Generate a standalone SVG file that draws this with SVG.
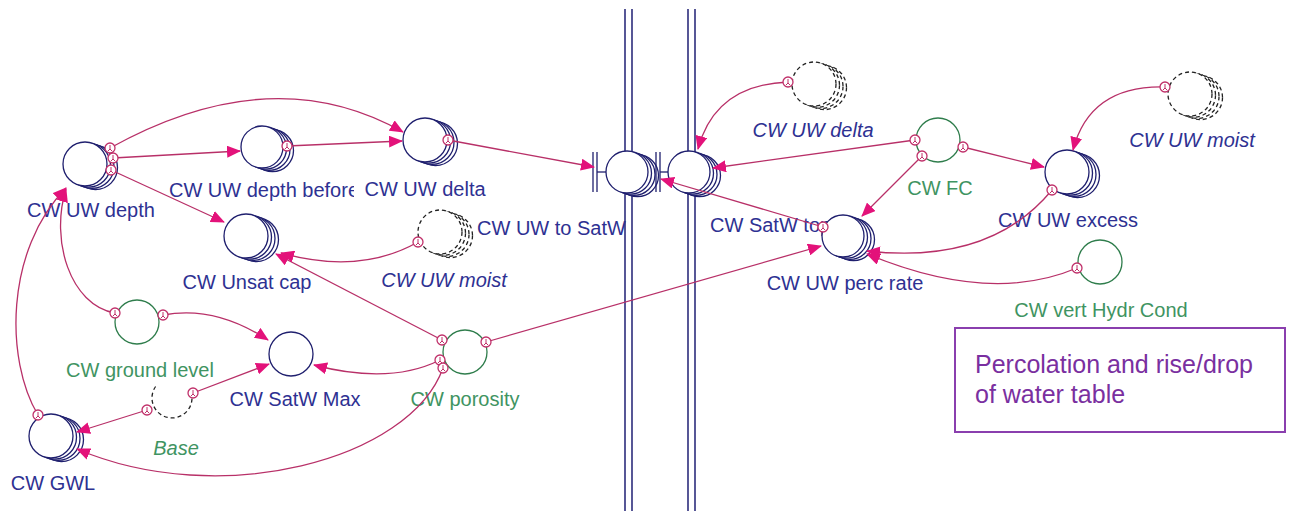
<svg xmlns="http://www.w3.org/2000/svg" width="1290" height="511" viewBox="0 0 1290 511">
<style>
text{font-family:"Liberation Sans",Arial,sans-serif;font-size:20px}
.nv{fill:#2e3192}
.gr{fill:#3f9462}
.it{font-style:italic}
.m{text-anchor:middle}
.c{fill:#fff;stroke:#1f1f6e;stroke-width:1.3}
.cg{fill:#fff;stroke:#2f7d4c;stroke-width:1.3}
.cd{fill:#fff;stroke:#222;stroke-width:1.3;stroke-dasharray:4 3}
.bar{stroke:#1f1f6e;stroke-width:1.3}
.pipe{stroke:#2c2c7c;stroke-width:1.6}
.ln{fill:none;stroke:#b83068;stroke-width:1.3;marker-end:url(#ah)}
.pin{fill:#fff;stroke:#c0306a;stroke-width:1.3}
.bx{fill:none;stroke:#8a3fae;stroke-width:2}
.bt{fill:#7a2fa0;font-size:25px}
</style>
<defs>
<marker id="ah" markerWidth="14" markerHeight="12" refX="13" refY="6" orient="auto" markerUnits="userSpaceOnUse"><path d="M0,0 L14,6 L0,12 Z" fill="#e3127a"/></marker>
<g id="pn"><circle class="pin" r="5"/><path d="M0,-3V1M-2,3L0,1L2,3" fill="none" stroke="#c0306a" stroke-width="1"/></g>
</defs>
<rect width="1290" height="511" fill="#fff"/>
<g id="pipes">
<line class="pipe" x1="625" y1="9" x2="625" y2="511"/><line class="pipe" x1="632" y1="9" x2="632" y2="511"/>
<line class="pipe" x1="688" y1="9" x2="688" y2="511"/><line class="pipe" x1="695" y1="9" x2="695" y2="511"/>
</g>
<g id="uwdepth">
<text class="nv m" x="91" y="217">CW UW depth</text>
<circle class="c" cx="95.5" cy="167.6" r="22"/><circle class="c" cx="92" cy="166.4" r="22"/><circle class="c" cx="88.5" cy="165.2" r="22"/><circle class="c" cx="85" cy="164" r="22"/>
</g>
<g id="uwdepthbefore">
<text class="nv m" x="264" y="197">CW UW depth before</text>
<circle class="c" cx="272.5" cy="150.6" r="21"/><circle class="c" cx="269" cy="149.4" r="21"/><circle class="c" cx="265.5" cy="148.2" r="21"/><circle class="c" cx="262" cy="147" r="21"/>
</g>
<g id="uwdelta">
<rect x="354" y="180" width="140" height="21" fill="#fff"/>
<text class="nv m" x="425" y="196">CW UW delta</text>
<circle class="c" cx="435.5" cy="143.6" r="22"/><circle class="c" cx="432" cy="142.4" r="22"/><circle class="c" cx="428.5" cy="141.2" r="22"/><circle class="c" cx="425" cy="140" r="22"/>
</g>
<g id="unsatcap">
<text class="nv m" x="247" y="289">CW Unsat cap</text>
<circle class="c" cx="256.5" cy="239.6" r="22"/><circle class="c" cx="253" cy="238.4" r="22"/><circle class="c" cx="249.5" cy="237.2" r="22"/><circle class="c" cx="246" cy="236" r="22"/>
</g>
<g id="uwmoist-left">
<text class="nv m it" x="444" y="287">CW UW moist</text>
<circle class="cd" cx="450.5" cy="235.6" r="22"/><circle class="cd" cx="447" cy="234.4" r="22"/><circle class="cd" cx="443.5" cy="233.2" r="22"/><circle class="cd" cx="440" cy="232" r="22"/>
</g>
<g id="uwtosatw">
<text class="nv" x="477" y="235">CW UW to SatW</text>
<circle class="c" cx="637.5" cy="175.6" r="21"/><circle class="c" cx="634" cy="174.4" r="21"/><circle class="c" cx="630.5" cy="173.2" r="21"/><circle class="c" cx="627" cy="172" r="21"/>
<line class="bar" x1="593" y1="152" x2="593" y2="192"/><line class="bar" x1="597" y1="152" x2="597" y2="192"/><line class="bar" x1="597" y1="172" x2="606" y2="172"/>
</g>
<g id="satwtop">
<text class="nv" x="710" y="232">CW SatW top</text>
<circle class="c" cx="699.5" cy="175.6" r="21"/><circle class="c" cx="696" cy="174.4" r="21"/><circle class="c" cx="692.5" cy="173.2" r="21"/><circle class="c" cx="689" cy="172" r="21"/>
<line class="bar" x1="656" y1="152" x2="656" y2="192"/><line class="bar" x1="660" y1="152" x2="660" y2="192"/><line class="bar" x1="660" y1="172" x2="668" y2="172"/>
</g>
<g id="uwdelta-ghost">
<text class="nv m it" x="813" y="137">CW UW delta</text>
<circle class="cd" cx="824.5" cy="87.6" r="22"/><circle class="cd" cx="821" cy="86.4" r="22"/><circle class="cd" cx="817.5" cy="85.2" r="22"/><circle class="cd" cx="814" cy="84" r="22"/>
</g>
<g id="fc">
<text class="gr m" x="940" y="195">CW FC</text>
<circle class="cg" cx="938" cy="140" r="22"/>
</g>
<g id="uwexcess">
<text class="nv m" x="1068" y="227">CW UW excess</text>
<circle class="c" cx="1077.5" cy="175.6" r="22"/><circle class="c" cx="1074" cy="174.4" r="22"/><circle class="c" cx="1070.5" cy="173.2" r="22"/><circle class="c" cx="1067" cy="172" r="22"/>
</g>
<g id="uwmoist-right">
<text class="nv m it" x="1192" y="147">CW UW moist</text>
<circle class="cd" cx="1200.5" cy="97.6" r="22"/><circle class="cd" cx="1197" cy="96.4" r="22"/><circle class="cd" cx="1193.5" cy="95.2" r="22"/><circle class="cd" cx="1190" cy="94" r="22"/>
</g>
<g id="percrate">
<text class="nv m" x="845" y="290">CW UW perc rate</text>
<circle class="c" cx="853.5" cy="239.6" r="21"/><circle class="c" cx="850" cy="238.4" r="21"/><circle class="c" cx="846.5" cy="237.2" r="21"/><circle class="c" cx="843" cy="236" r="21"/>
</g>
<g id="verthydr">
<text class="gr m" x="1101" y="317">CW vert Hydr Cond</text>
<circle class="cg" cx="1100" cy="262" r="22"/>
</g>
<g id="groundlevel">
<text class="gr m" x="140" y="377">CW ground level</text>
<circle class="cg" cx="137" cy="322" r="22"/>
</g>
<g id="satwmax">
<text class="nv m" x="295" y="406">CW SatW Max</text>
<circle class="c" cx="291" cy="354" r="22"/>
</g>
<g id="porosity">
<text class="gr m" x="465" y="406">CW porosity</text>
<circle class="cg" cx="465" cy="352" r="22"/>
</g>
<g id="base">
<text class="gr m it" x="176" y="455">Base</text>
<path d="M155.6,386.5 A20 20 0 1 0 191.6,394" fill="none" stroke="#222" stroke-width="1.3" stroke-dasharray="4 3"/>
</g>
<g id="gwl">
<text class="nv m" x="53" y="490">CW GWL</text>
<circle class="c" cx="61.5" cy="439.6" r="22"/><circle class="c" cx="58" cy="438.4" r="22"/><circle class="c" cx="54.5" cy="437.2" r="22"/><circle class="c" cx="51" cy="436" r="22"/>
</g>
<g id="note">
<rect class="bx" x="955" y="328" width="330" height="104"/>
<text class="bt" x="975" y="373">Percolation and rise/drop</text>
<text class="bt" x="975" y="403">of water table</text>
</g>
<g id="connectors">
<path class="ln" d="M113,158 L240,151"/>
<path class="ln" d="M110,148 Q272,58 403,132"/>
<path class="ln" d="M111,170 L224,222"/>
<path class="ln" d="M115,313 C70,305 50,240 66,189"/>
<path class="ln" d="M38,415 C5,360 5,250 66,188"/>
<path class="ln" d="M287,146 L402,141"/>
<path class="ln" d="M448,140 L594,167"/>
<path class="ln" d="M442,340 L276,254"/>
<path class="ln" d="M418,242 Q360,275 281,253"/>
<path class="ln" d="M163,315 Q215,305 268,340"/>
<path class="ln" d="M193,393 L269,364"/>
<path class="ln" d="M440,360 Q390,385 314,365"/>
<path class="ln" d="M443,368 C410,460 220,510 77,449"/>
<path class="ln" d="M147,410 L77,432"/>
<path class="ln" d="M486,342 L821,246"/>
<path class="ln" d="M788,82 Q715,85 698,149"/>
<path class="ln" d="M915,140 L713,168"/>
<path class="ln" d="M922,156 L862,216"/>
<path class="ln" d="M963,147 L1044,167"/>
<path class="ln" d="M1165,87 Q1090,85 1073,150"/>
<path class="ln" d="M1052,190 Q990,265 867,251"/>
<path class="ln" d="M1077,268 Q990,305 867,254"/>
<path class="ln" d="M823,227 L661,179"/>
<use href="#pn" x="113" y="158"/><use href="#pn" x="110" y="148"/><use href="#pn" x="111" y="170"/>
<use href="#pn" x="115" y="313"/><use href="#pn" x="38" y="415"/><use href="#pn" x="287" y="146"/>
<use href="#pn" x="448" y="140"/><use href="#pn" x="442" y="340"/><use href="#pn" x="418" y="242"/>
<use href="#pn" x="163" y="315"/><use href="#pn" x="193" y="393"/><use href="#pn" x="440" y="360"/>
<use href="#pn" x="443" y="368"/><use href="#pn" x="147" y="410"/><use href="#pn" x="486" y="342"/>
<use href="#pn" x="788" y="82"/><use href="#pn" x="915" y="140"/><use href="#pn" x="922" y="156"/>
<use href="#pn" x="963" y="147"/><use href="#pn" x="1165" y="87"/><use href="#pn" x="1052" y="190"/>
<use href="#pn" x="1077" y="268"/><use href="#pn" x="823" y="227"/>
</g>
</svg>
